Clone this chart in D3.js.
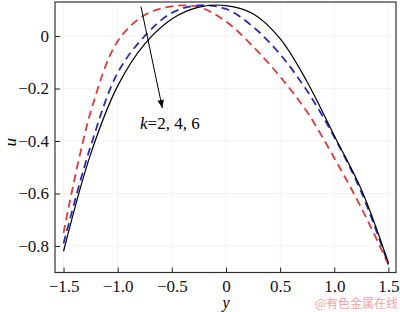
<!DOCTYPE html>
<html>
<head>
<meta charset="utf-8">
<script src="https://cdn.jsdelivr.net/npm/d3@7"></script>
<style>
  body { margin: 0; background: #fff; }
  svg { display: block; }
  .serif { font-family: 'Liberation Serif', 'Times New Roman', Times, serif; }
</style>
</head>
<body>
<div id="chart"></div>
<script>
// values
const yPos = [-1.5, -1.25, -1.0, -0.75, -0.5, -0.25, 0, 0.25, 0.5, 0.75, 1.0, 1.25, 1.5];
const uK2 = [-0.82, -0.45, -0.19, -0.03, 0.065, 0.110, 0.116, 0.085, -0.01, -0.175, -0.38, -0.585, -0.865];
const uK4 = [-0.79, -0.42, -0.14, 0.0, 0.088, 0.117, 0.103, 0.035, -0.07, -0.21, -0.385, -0.595, -0.87];
const uK6 = [-0.75, -0.29, -0.02, 0.08, 0.113, 0.110, 0.055, -0.04, -0.155, -0.29, -0.465, -0.655, -0.87];
const xTicks = [-1.5, -1.0, -0.5, 0, 0.5, 1.0, 1.5];
const yTicks = [-0.8, -0.6, -0.4, -0.2, 0];
const labelText = ['=2, 4, 6'];

const width = 400, height = 312;
const margin = {top: 2, right: 4, bottom: 39.5, left: 55};

const svg = d3.select('#chart').append('svg')
    .attr('width', width)
    .attr('height', height);

const x = d3.scaleLinear()
    .domain([-1.579, 1.570])
    .range([margin.left, width - margin.right]);
const y = d3.scaleLinear()
    .domain([-0.901, 0.1295])
    .range([height - margin.bottom, margin.top]);

const fmt = d => (d < 0 ? '\u2212' : '') + (d === 0 ? '0' : Math.abs(d).toFixed(1));

// faint grid
svg.append('g')
    .selectAll('line')
    .data(xTicks)
    .join('line')
    .attr('x1', d => x(d)).attr('x2', d => x(d))
    .attr('y1', margin.top).attr('y2', height - margin.bottom)
    .attr('stroke', '#f3f3f3');
svg.append('g')
    .selectAll('line')
    .data(yTicks)
    .join('line')
    .attr('y1', d => y(d)).attr('y2', d => y(d))
    .attr('x1', margin.left).attr('x2', width - margin.right)
    .attr('stroke', '#f3f3f3');

// axes, ticks inward
const xAxis = svg.append('g')
    .attr('transform', `translate(0,${height - margin.bottom})`)
    .call(d3.axisBottom(x).tickValues(xTicks).tickSize(-5).tickPadding(7).tickFormat(fmt));
const yAxis = svg.append('g')
    .attr('transform', `translate(${margin.left},0)`)
    .call(d3.axisLeft(y).tickValues(yTicks).tickSize(-5).tickPadding(6).tickFormat(fmt));

[xAxis, yAxis].forEach(a => {
    a.attr('font-family', null).attr('font-size', null);
    a.select('.domain').remove();
    a.selectAll('line').attr('stroke', '#222');
    a.selectAll('text')
        .attr('class', 'serif')
        .style('font-size', '17px')
        .attr('fill', '#111');
});

// frame
svg.append('rect')
    .attr('x', margin.left)
    .attr('y', margin.top)
    .attr('width', width - margin.left - margin.right)
    .attr('height', height - margin.top - margin.bottom)
    .attr('fill', 'none')
    .attr('stroke', '#333')
    .attr('stroke-width', 1.2);

const line = d3.line()
    .x(d => x(d[0]))
    .y(d => y(d[1]))
    .curve(d3.curveCatmullRom.alpha(0.5));

const series = [
    {vals: uK6, color: '#e0393b', dash: '8,5', w: 1.8},
    {vals: uK4, color: '#2b2bb8', dash: '8,5', w: 1.8},
    {vals: uK2, color: '#000', dash: null, w: 1.2}
];

series.forEach(s => {
    svg.append('path')
        .datum(yPos.map((v, i) => [v, s.vals[i]]))
        .attr('d', line)
        .attr('fill', 'none')
        .attr('stroke', s.color)
        .attr('stroke-width', s.w)
        .attr('stroke-dasharray', s.dash);
});

// arrow annotation
svg.append('defs').append('marker')
    .attr('id', 'arr')
    .attr('viewBox', '0 0 10 10')
    .attr('refX', 10).attr('refY', 5)
    .attr('markerWidth', 12).attr('markerHeight', 8)
    .attr('markerUnits', 'userSpaceOnUse')
    .attr('orient', 'auto')
    .append('path')
    .attr('d', 'M0,1 L10,5 L0,9 Z')
    .attr('fill', '#000');

svg.append('line')
    .attr('x1', x(-0.785)).attr('y1', y(0.112))
    .attr('x2', x(-0.588)).attr('y2', y(-0.274))
    .attr('stroke', '#000')
    .attr('stroke-width', 1)
    .attr('marker-end', 'url(#arr)');

const lbl = svg.append('text')
    .attr('class', 'serif')
    .attr('x', x(-0.794))
    .attr('y', y(-0.355))
    .style('font-size', '17px')
    .attr('fill', '#000');
lbl.append('tspan').style('font-style', 'italic').text('k');
lbl.append('tspan').text(labelText[0]);

// axis titles
svg.append('text')
    .attr('class', 'serif')
    .attr('x', x(0))
    .attr('y', 308)
    .attr('text-anchor', 'middle')
    .style('font-style', 'italic')
    .style('font-size', '16px')
    .text('y');
svg.append('text')
    .attr('class', 'serif')
    .attr('transform', `translate(16,${y(-0.405)}) rotate(-90)`)
    .attr('text-anchor', 'middle')
    .style('font-style', 'italic')
    .style('font-size', '17px')
    .text('u');

// watermark
svg.append('text')
    .attr('x', 398)
    .attr('y', 308)
    .attr('text-anchor', 'end')
    .style('font-family', "'Noto Sans CJK SC', sans-serif")
    .style('font-size', '12px')
    .attr('fill', '#f1a3a3')
    .text('@有色金属在线');
</script>
</body>
</html>
